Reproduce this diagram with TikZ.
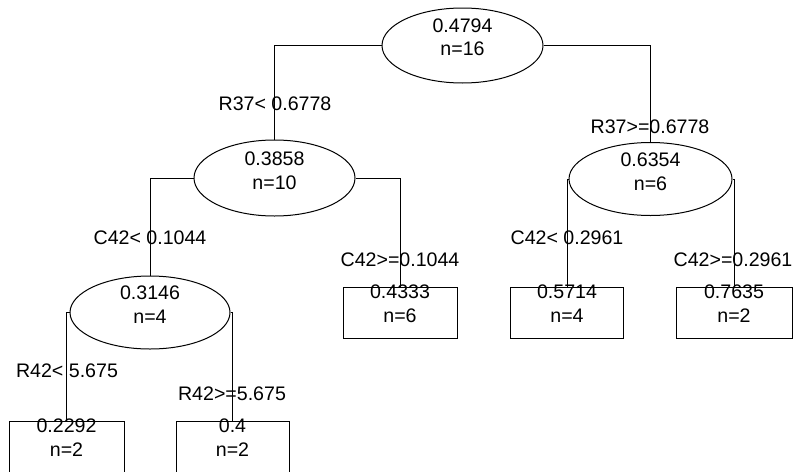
\documentclass[tikz,border=0pt]{standalone}
\usepackage{fontspec}
\setmainfont{Liberation Sans}
\usetikzlibrary{shapes.geometric}
\begin{document}
\begin{tikzpicture}[x=1pt,y=-1pt,
  every node/.style={font=\fontsize{19.6}{23}\selectfont},
  oval/.style={draw,ellipse,line width=1pt,inner sep=0pt,minimum width=161pt,minimum height=75pt},
  leafbox/.style={draw,rectangle,line width=1pt,inner sep=0pt,minimum width=114pt,minimum height=51pt},
  txt/.style={anchor=base,inner sep=0pt},
  elab/.style={anchor=base,inner sep=0pt},
  conn/.style={line width=1pt}]
\useasboundingbox (0,0) rectangle (794,471);
\clip (0,0) rectangle (794,471);
% shapes
\node[oval] (root) at (462.5,45.5) {};
\node[oval,minimum height=76pt] (n1) at (274.5,178) {};
\node[oval,minimum width=163pt,minimum height=73pt] (n2) at (650.5,179) {};
\node[oval,minimum width=160pt,minimum height=73pt] (n3) at (150,312.5) {};
\node[leafbox] (l4) at (400,312.5) {};
\node[leafbox,minimum width=113pt] (l5) at (567,312.5) {};
\node[leafbox,minimum width=116pt] (l6) at (734,312.5) {};
\node[leafbox,minimum width=115pt] (l7) at (66.5,446.5) {};
\node[leafbox,minimum width=113pt] (l8) at (232.5,446.5) {};
% connectors
\draw[conn] (root.west) -| (n1.north);
\draw[conn] (root.east) -| (n2.north);
\draw[conn] (n1.west) -| (n3.north);
\draw[conn] (n1.east) -| (l4.north);
\draw[conn] (n2.west) -| (l5.north);
\draw[conn] (n2.east) -| (l6.north);
\draw[conn] (n3.west) -| (l7.north);
\draw[conn] (n3.east) -| (l8.north);
% node texts
\node[txt] (root-a) at ([yshift=13.5pt]root.center) {0.4794};
\node[txt] (root-b) at ([yshift=-10pt]root.center) {n=16};
\node[txt] (n1-a) at ([yshift=13pt]n1.center) {0.3858};
\node[txt] (n1-b) at ([yshift=-11pt]n1.center) {n=10};
\node[txt] (n2-a) at ([yshift=13pt]n2.center) {0.6354};
\node[txt] (n2-b) at ([yshift=-11pt]n2.center) {n=6};
\node[txt] (n3-a) at ([yshift=13.5pt]n3.center) {0.3146};
\node[txt] (n3-b) at ([yshift=-10.5pt]n3.center) {n=4};
\node[txt] (l4-a) at ([yshift=14.5pt]l4.center) {0.4333};
\node[txt] (l4-b) at ([yshift=-9.5pt]l4.center) {n=6};
\node[txt] (l5-a) at ([yshift=14.5pt]l5.center) {0.5714};
\node[txt] (l5-b) at ([yshift=-9.5pt]l5.center) {n=4};
\node[txt] (l6-a) at ([yshift=14.5pt]l6.center) {0.7635};
\node[txt] (l6-b) at ([yshift=-9.5pt]l6.center) {n=2};
\node[txt] (l7-a) at ([yshift=14.5pt]l7.center) {0.2292};
\node[txt] (l7-b) at ([yshift=-9.5pt]l7.center) {n=2};
\node[txt] (l8-a) at ([yshift=14.5pt]l8.center) {0.4};
\node[txt] (l8-b) at ([yshift=-9.5pt]l8.center) {n=2};
% edge labels
\node[elab] (e1) at (275,110) {R37< 0.6778};
\node[elab] (e2) at (650,133) {R37>=0.6778};
\node[elab] (e3) at (150,244) {C42< 0.1044};
\node[elab] (e4) at (400,266) {C42>=0.1044};
\node[elab] (e5) at (567,244) {C42< 0.2961};
\node[elab] (e6) at (733,266) {C42>=0.2961};
\node[elab] (e7) at (67,377) {R42< 5.675};
\node[elab] (e8) at (232,400) {R42>=5.675};
\end{tikzpicture}
\end{document}
